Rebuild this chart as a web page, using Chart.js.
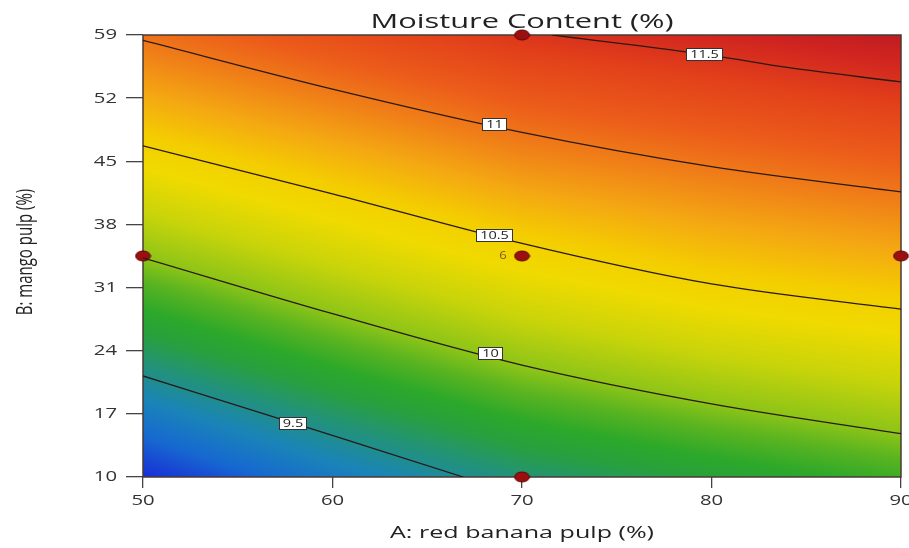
<!DOCTYPE html>
<html>
<head>
<meta charset="utf-8">
<script src="https://cdn.jsdelivr.net/npm/chart.js@4/dist/chart.umd.min.js"></script>
<style>
  html, body { margin: 0; padding: 0; background: #fff; overflow: hidden; }
  #wrap { width: 909px; height: 548px; overflow: hidden; }
  canvas { display: block; }
</style>
</head>
<body>
<div id="wrap"><canvas id="chart" width="920" height="548"></canvas></div>
<script>
// factor levels of the design
const bananaPulp = [50, 60, 70, 80, 90];            // A (%)
const mangoPulp = [10, 17, 24, 31, 38, 45, 52, 59];  // B (%)

// predicted moisture content (%) at each B row, A column
const moisture = [
  [9.09, 9.34, 9.56, 9.70, 9.83],
  [9.34, 9.59, 9.81, 9.96, 10.08],
  [9.61, 9.85, 10.07, 10.22, 10.33],
  [9.87, 10.11, 10.33, 10.49, 10.59],
  [10.15, 10.38, 10.60, 10.75, 10.86],
  [10.43, 10.66, 10.89, 11.02, 11.14],
  [10.73, 10.96, 11.18, 11.31, 11.43],
  [11.03, 11.27, 11.48, 11.59, 11.72]
];

// contour lines
const levels = ['9.5', '10', '10.5', '11', '11.5'];
const contourA = [
  [50, 57.9, 62.1, 66.9],
  [50, 60, 70, 80, 90],
  [50, 60, 70, 80, 90],
  [50, 60, 70, 80, 90],
  [71.6, 80, 84, 90]
];
const contourB = [
  [21.2, 16.0, 13.2, 10],
  [34.3, 28.1, 22.4, 18.1, 14.8],
  [46.7, 41.4, 35.9, 31.4, 28.6],
  [58.4, 53.0, 48.2, 44.4, 41.6],
  [59, 56.75, 55.4, 53.8]
];
const labelA = [57.9, 68.3, 68.5, 68.5, 79.6];
const labelB = [16.0, 23.8, 36.8, 49.1, 56.9];

// design points, centre point run 6 times
const designA = [70, 50, 70, 90, 70];
const designB = [59, 34.5, 34.5, 34.5, 10];
const centreRuns = '6';

const xTicks = [50, 60, 70, 80, 90];
const yTicks = [10, 17, 24, 31, 38, 45, 52, 59];

// blue -> green -> yellow -> red
const colourStops = [
  [9.05, [26, 30, 216]],
  [9.25, [22, 104, 208]],
  [9.4, [26, 132, 184]],
  [9.55, [34, 146, 122]],
  [9.68, [40, 160, 62]],
  [9.78, [44, 168, 42]],
  [9.9, [90, 180, 32]],
  [10.0, [140, 196, 24]],
  [10.2, [200, 212, 10]],
  [10.4, [240, 218, 0]],
  [10.55, [244, 206, 0]],
  [10.75, [244, 168, 18]],
  [10.95, [240, 128, 24]],
  [11.15, [236, 92, 26]],
  [11.4, [226, 64, 26]],
  [11.6, [208, 36, 32]],
  [11.75, [188, 26, 34]]
];

function colourFor(v) {
  if (v <= colourStops[0][0]) return colourStops[0][1];
  for (let i = 1; i < colourStops.length; i++) {
    const [v1, c1] = colourStops[i];
    if (v <= v1) {
      const [v0, c0] = colourStops[i - 1];
      const t = (v - v0) / (v1 - v0);
      return c0.map((c, k) => c + (c1[k] - c) * t);
    }
  }
  return colourStops[colourStops.length - 1][1];
}

function locate(arr, v) {
  let i = 0;
  while (i < arr.length - 2 && v > arr[i + 1]) i++;
  const t = Math.min(1, Math.max(0, (v - arr[i]) / (arr[i + 1] - arr[i])));
  return [i, t];
}

function surface(a, b) {
  const [i, tx] = locate(bananaPulp, a);
  const [j, ty] = locate(mangoPulp, b);
  const r0 = moisture[j][i] + (moisture[j][i + 1] - moisture[j][i]) * tx;
  const r1 = moisture[j + 1][i] + (moisture[j + 1][i + 1] - moisture[j + 1][i]) * tx;
  return r0 + (r1 - r0) * ty;
}

const FONT = '"Open Sans", "Noto Sans", sans-serif';
const WIDE = 1.45;   // text is drawn wide

function wideText(ctx, txt, x, y, sx) {
  ctx.save();
  ctx.translate(x, y);
  ctx.scale(sx, 1);
  ctx.fillText(txt, 0, 0);
  ctx.restore();
}

const surfacePlugin = {
  id: 'surface',
  beforeDatasetsDraw(chart) {
    const { ctx, chartArea: area, scales: { x, y } } = chart;
    const w = Math.round(area.right - area.left);
    const h = Math.round(area.bottom - area.top);
    const off = document.createElement('canvas');
    off.width = w; off.height = h;
    const octx = off.getContext('2d');
    const img = octx.createImageData(w, h);
    for (let py = 0; py < h; py++) {
      const b = y.getValueForPixel(area.top + py + 0.5);
      for (let px = 0; px < w; px++) {
        const a = x.getValueForPixel(area.left + px + 0.5);
        const c = colourFor(surface(a, b));
        const k = (py * w + px) * 4;
        img.data[k] = c[0]; img.data[k + 1] = c[1]; img.data[k + 2] = c[2]; img.data[k + 3] = 255;
      }
    }
    octx.putImageData(img, 0, 0);
    ctx.save();
    ctx.drawImage(off, area.left, area.top);
    ctx.strokeStyle = '#4a3a32';
    ctx.lineWidth = 1.5;
    ctx.strokeRect(area.left, area.top, area.right - area.left, area.bottom - area.top);
    ctx.restore();
  },
  afterDatasetsDraw(chart) {
    const { ctx, scales: { x, y } } = chart;
    ctx.save();
    // contour labels
    ctx.font = '10px ' + FONT;
    ctx.textAlign = 'center';
    ctx.textBaseline = 'middle';
    levels.forEach((txt, i) => {
      const cx = x.getPixelForValue(labelA[i]);
      const cy = y.getPixelForValue(labelB[i]);
      const bw = Math.round(ctx.measureText(txt).width * WIDE + 7);
      const bh = 12;
      const left = Math.round(cx - bw / 2), top = Math.round(cy - bh / 2);
      ctx.fillStyle = '#fff';
      ctx.fillRect(left, top, bw, bh);
      ctx.strokeStyle = '#333';
      ctx.lineWidth = 1;
      ctx.strokeRect(left + 0.5, top + 0.5, bw, bh);
      ctx.fillStyle = '#222';
      wideText(ctx, txt, left + bw / 2 + 0.5, top + bh / 2 + 1, WIDE);
    });
    // replicate count beside the centre point
    ctx.font = '10px ' + FONT;
    ctx.fillStyle = '#7a5a30';
    wideText(ctx, centreRuns, x.getPixelForValue(designA[2]) - 19, y.getPixelForValue(designB[2]), 1.3);
    ctx.restore();
  },
  afterDraw(chart) {
    const { ctx, chartArea: area, scales: { x, y } } = chart;
    const mid = (area.left + area.right) / 2;
    ctx.save();
    ctx.fillStyle = '#222';
    ctx.textBaseline = 'alphabetic';
    ctx.textAlign = 'center';

    ctx.font = '20px ' + FONT;
    wideText(ctx, 'Moisture Content (%)', mid, 28, 1.54);

    ctx.font = '16.5px ' + FONT;
    wideText(ctx, 'A: red banana pulp (%)', mid, 538, 1.52);

    // y title, rotated, thickened across the page
    ctx.save();
    ctx.font = '15px ' + FONT;
    ctx.translate(32, (area.top + area.bottom) / 2 - 4);
    ctx.rotate(-Math.PI / 2);
    ctx.scale(1, 1.45);
    ctx.fillText('B: mango pulp (%)', 0, 0);
    ctx.restore();

    // tick labels
    ctx.fillStyle = '#333';
    ctx.font = '14px ' + FONT;
    x.ticks.forEach(t => wideText(ctx, String(t.value), x.getPixelForValue(t.value), 505, WIDE));
    ctx.textAlign = 'right';
    ctx.textBaseline = 'middle';
    y.ticks.forEach(t => wideText(ctx, String(t.value), 117, y.getPixelForValue(t.value) + 0.5, WIDE));
    ctx.restore();
  }
};

// flat ellipse marker for the design points
const marker = document.createElement('canvas');
marker.width = 17; marker.height = 12;
(function () {
  const m = marker.getContext('2d');
  m.beginPath();
  m.ellipse(8.5, 6, 7.5, 5, 0, 0, Math.PI * 2);
  m.fillStyle = '#9c0f10';
  m.fill();
  m.lineWidth = 1;
  m.strokeStyle = '#5c0606';
  m.stroke();
})();

const datasets = levels.map((lv, i) => ({
  label: lv,
  data: contourA[i].map((a, k) => ({ x: a, y: contourB[i][k] })),
  showLine: true,
  borderColor: '#2a1a14',
  borderWidth: 1.3,
  pointRadius: 0,
  tension: 0.4,
  cubicInterpolationMode: 'monotone'
}));
datasets.push({
  label: 'Design points',
  data: designA.map((a, k) => ({ x: a, y: designB[k] })),
  showLine: false,
  pointStyle: marker,
  pointRadius: 7,
  clip: false
});

new Chart(document.getElementById('chart'), {
  type: 'scatter',
  data: { datasets },
  options: {
    responsive: false,
    devicePixelRatio: 1,
    animation: false,
    events: [],
    layout: { padding: { top: 35, right: 19, bottom: 0, left: 0 } },
    plugins: { legend: { display: false }, tooltip: { enabled: false } },
    scales: {
      x: {
        type: 'linear',
        min: 50, max: 90,
        afterBuildTicks: s => { s.ticks = xTicks.map(v => ({ value: v })); },
        afterFit: s => { s.height = 71; },
        grid: { drawOnChartArea: false, tickLength: 11, color: '#444', lineWidth: 1.3 },
        border: { display: false },
        ticks: { display: false }
      },
      y: {
        type: 'linear',
        min: 10, max: 59,
        afterBuildTicks: s => { s.ticks = yTicks.map(v => ({ value: v })); },
        afterFit: s => { s.width = 143; },
        grid: { drawOnChartArea: false, tickLength: 17, color: '#444', lineWidth: 1.3 },
        border: { display: false },
        ticks: { display: false }
      }
    }
  },
  plugins: [surfacePlugin]
});
</script>
</body>
</html>
